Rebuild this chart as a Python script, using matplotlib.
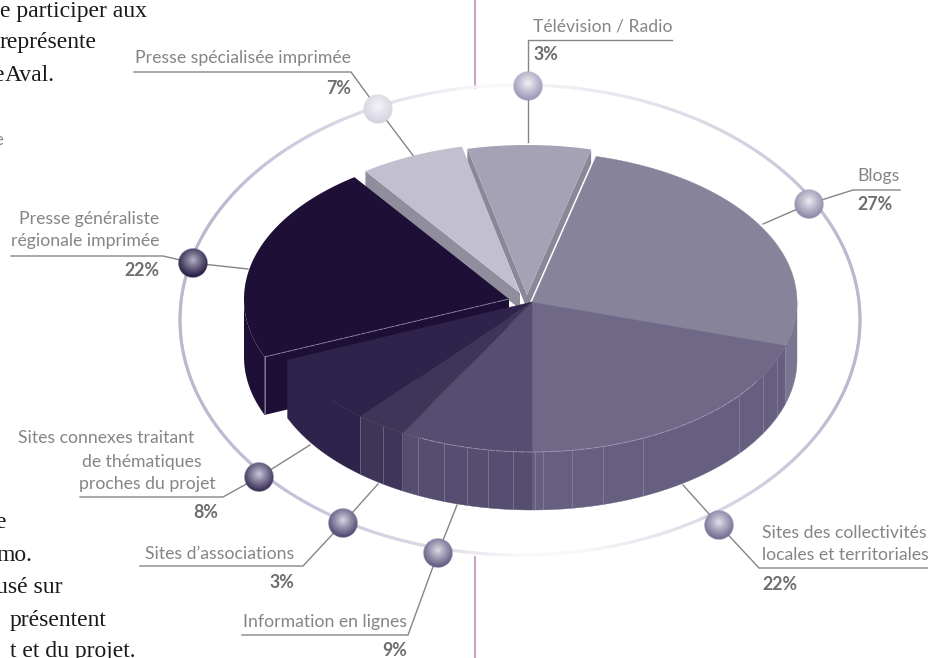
import numpy as np
from matplotlib import pyplot as plt
from matplotlib.colors import to_rgb

# printed labels, clockwise from the top
categories = ['Télévision / Radio', 'Blogs', 'Sites des collectivités\nlocales et territoriales',
              'Information en lignes', 'Sites d’associations',
              'Sites connexes traitant\nde thématiques\nproches du projet',
              'Presse généraliste\nrégionale imprimée', 'Presse spécialisée imprimée']
printed_pct = [3, 27, 22, 9, 3, 8, 22, 7]
# share of the disc each slice really takes in the drawing (not the same as the printed %)
drawn_share = [7.5, 25.8, 20.3, 8.1, 3.1, 7.5, 21.4, 6.4]

top_colors = ['#a5a2b5', '#87839b', '#6f6886', '#564e70', '#3f3558', '#2e234a', '#1e0f36', '#c2c0ce']
wall_colors = ['#8a8799', '#7a7590', '#675f80', '#564e70', '#3f3558', '#2e234a', '#1e0f36', '#908e9c']
ball_edges = ['#9a96b4', '#8a86a6', '#6f6a90', '#5f5880', '#4e4670', '#352b52', '#221840', '#d4d2e0']
ball_highs = ['#f4f4f8', '#eeeef2', '#e4e3ec', '#e0dfe8', '#dadae6', '#d0cde0', '#b8b4c8', '#f5f5f8']

START = -13.0
RX, RY, DEPTH = 265, 150, 58
GREY = '#858585'

fig = plt.figure(figsize=(9.29, 6.58), dpi=100)
ax = fig.add_axes([0, 0, 1, 1])


def rim(c, a):
    a = np.radians(a)
    return c[0] + RX * np.sin(a), c[1] - RY * np.cos(a)


def wedge(c, a0, a1):
    t = np.linspace(a0, a1, 120)
    xs, ys = rim(c, t)
    return np.r_[c[0], xs], np.r_[c[1], ys]


def wall(c, a0, a1, color):
    t = np.linspace(max(a0, 90), min(a1, 270), 120)
    if t[-1] <= t[0]:
        return
    xs, ys = rim(c, t)
    ax.fill(np.r_[xs, xs[::-1]], np.r_[ys, ys[::-1] + DEPTH], color=color, lw=0.3, zorder=4)


def cut_face(c, a, h, color, z=3):
    x, y = rim(c, a)
    ax.fill([x, c[0], c[0], x], [y, c[1], c[1] + h, y + h], color=color, lw=0, zorder=z)


def ball(x, y, r, high, edge):
    n = 64
    yy, xx = np.mgrid[-1:1:n * 1j, -1:1:n * 1j]
    d = np.hypot(xx, yy + 0.2) / 1.15
    d = np.clip(d, 0, 1) ** 0.9
    hi, ed = np.array(to_rgb(high)), np.array(to_rgb(edge))
    img = np.zeros((n, n, 4))
    for k in range(3):
        img[..., k] = hi[k] + (ed[k] - hi[k]) * d
    img[..., 3] = np.clip((1 - np.hypot(xx, yy)) * n / 2, 0, 1)
    ax.imshow(img, extent=(x - r, x + r, y + r, y - r), aspect='auto', zorder=8, interpolation='bilinear')


edges = START + np.r_[0, np.cumsum(drawn_share)] * 3.6
A0, A1 = edges[:-1], edges[1:]
main_c = (532, 302)
centers = [(527, 295), main_c, main_c, main_c, main_c, main_c, (509, 299), (520, 293)]

# ring round the pie, fades out at the top and at the bottom
t = np.radians(np.linspace(-180, 180, 721))
rx_ = 520 + 340 * np.sin(t)
ry_ = 320 - 235 * np.cos(t)
fade = np.interp(np.degrees(t), [-180, -166, -140, -110, -60, -30, -5, 30, 70, 110, 146, 170, 180],
                 [0.1, 0.5, 0.85, 1, 1, 0.55, 0.08, 0.5, 1, 1, 0.55, 0.1, 0.1])
ring = np.array(to_rgb('#bcb8d0'))
for i in range(len(t) - 1):
    ax.plot(rx_[i:i + 2], ry_[i:i + 2], lw=2.2, solid_capstyle='round', zorder=1,
            color=tuple(1 - (1 - ring) * fade[i]))

# divider lines of the page
ax.plot([475, 475], [0, 88], color='#cba5c6', lw=1.5, zorder=0)
ax.plot([475, 475], [557, 658], color='#cba5c6', lw=1.5, zorder=0)

# leaders: label rule -> ball -> slice
leaders = [
    [(672, 40), (528, 40), (528, 142)],
    [(900, 190), (853, 190), (809, 204), (763, 224)],
    [(929, 568), (759, 568), (719, 525), (683, 485)],
    [(242, 635), (408, 635), (438, 553), (457, 505)],
    [(140, 566), (303, 566), (343, 523), (378, 484)],
    [(80, 497), (223, 497), (259, 477), (310, 445)],
    [(11, 256), (163, 256), (193, 263), (248, 269)],
    [(134, 72), (351, 72), (378, 109), (415, 158)],
]
for pts in leaders:
    xs, ys = zip(*pts)
    ax.plot(xs, ys, color=GREY, lw=1, zorder=2, solid_joinstyle='miter')

# exploded slices, back first
cut_face(centers[7], A0[7], 16, wall_colors[7])
cut_face(centers[0], A0[0], 14, wall_colors[0])
cut_face(centers[0], A1[0], 14, wall_colors[0])
ax.fill(*wedge(centers[7], A0[7], A1[7]), color=top_colors[7], lw=0, zorder=3.2)
ax.fill(*wedge(centers[0], A0[0], A1[0]), color=top_colors[0], lw=0, zorder=3.4)

# dark slice pulled out to the left
cut_face(centers[6], A0[6], DEPTH, wall_colors[6], z=3.5)
t_left = np.linspace(A0[6], 270, 40)
xs, ys = rim(centers[6], t_left)
ax.fill(np.r_[xs, xs[::-1]], np.r_[ys, ys[::-1] + DEPTH], color=wall_colors[6], lw=0, zorder=3.5)
ax.fill(*wedge(centers[6], A0[6], A1[6]), color=top_colors[6], lw=0, zorder=3.6)
x0, y0 = rim(centers[6], A0[6])
ax.plot([x0, centers[6][0]], [y0, centers[6][1]], color='#8f88a8', lw=0.6, ls=(0, (6, 1)), zorder=3.7)
ax.plot([x0, x0], [y0, y0 + DEPTH - 2], color='#8f88a8', lw=0.6, zorder=3.7)

# main disc
for i in range(1, 6):
    wall(centers[i], A0[i], A1[i], wall_colors[i])
    ax.fill(*wedge(centers[i], A0[i], A1[i]), color=top_colors[i], lw=0.3, zorder=5)

# pale facet lines on the wall
for xf in [360, 383, 402, 418, 444, 467, 488, 513, 535, 543, 572, 603, 643, 739, 763, 777, 785]:
    yf = main_c[1] + RY * np.sqrt(1 - ((xf - main_c[0]) / RX) ** 2)
    ax.plot([xf, xf], [yf, yf + DEPTH - 1], color='#a9a4bd', lw=0.4, alpha=0.7, zorder=4.5)
xs, ys = rim(main_c, np.linspace(122, 205, 80))
ax.plot(xs, ys, color='#b4afc8', lw=0.6, alpha=0.7, ls=(0, (8, 1)), zorder=5.5)

# balls
ball_xy = [(528, 86), (809, 204), (719, 525), (438, 553), (343, 523), (259, 477), (193, 263), (378, 109)]
for (bx, by), hi, ed in zip(ball_xy, ball_highs, ball_edges):
    ball(bx, by, 15, hi, ed)

# labels: one (x, y) per line, then the percent anchor
sans = 'Lato'
label_pos = [[(533, 26)], [(857, 176)], [(762, 533), (762, 555)], [(407, 622)], [(294, 554)],
             [(194, 438), (202, 462), (216, 484)], [(159, 219), (159, 241)], [(351, 58)]]
pct_pos = [(533, 55), (857, 204), (762, 584), (407, 650), (294, 582), (218, 513), (159, 271), (351, 88)]
label_ha = ['left', 'left', 'left', 'right', 'right', 'right', 'right', 'right']
for name, v, pos, (px, py), ha in zip(categories, printed_pct, label_pos, pct_pos, label_ha):
    for line, (lx, ly) in zip(name.split('\n'), pos):
        ax.text(lx, ly, line, ha=ha, va='center', family=sans, fontsize=12.7, color='#858585', zorder=9)
    ax.text(px, py, f'{v}%', ha=ha, va='center', family=sans, fontsize=12.8, color='#6e6e6e',
            fontweight='bold', zorder=9)

# body text cut by the crop
body = [('e participer aux', 147, 17), ('représente', 97, 48), ('Aval.', 55, 81), ('e', 4, 81),
        ('e', 6, 528), ('mo.', 32, 561), ('usé sur', 63, 593), ('présentent', 107, 626),
        ('t et du projet.', 136, 657)]
for s, bx, by in body:
    ax.text(bx, by, s, ha='right', va='baseline', family='Liberation Serif', fontsize=17, color='#1a1a1a', zorder=9)
ax.text(3, 140, 'e', ha='right', va='center', family=sans, fontsize=12, color=GREY)

ax.set_xlim(0, 929)
ax.set_ylim(658, 0)
ax.axis('off')
fig.savefig('out.png', dpi=100)
